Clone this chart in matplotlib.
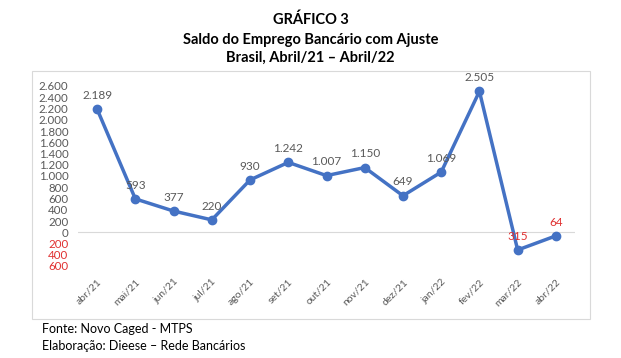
import matplotlib
matplotlib.use("Agg")
import matplotlib.pyplot as plt
from matplotlib.patches import Rectangle

months = ["abr/21", "mai/21", "jun/21", "jul/21", "ago/21", "set/21", "out/21",
          "nov/21", "dez/21", "jan/22", "fev/22", "mar/22", "abr/22"]
values = [2189, 593, 377, 220, 930, 1242, 1007, 1150, 649, 1069, 2505, -315, -64]
yticks = list(range(-600, 2601, 200))

FONT = "Lato"
GRAY = "#595959"
RED = "#E03030"
BLUE = "#4472C4"

def fmt(v):
    s = f"{abs(v):,}".replace(",", ".")
    return s

fig = plt.figure(figsize=(6.21, 3.58), dpi=100)
fig.patch.set_facecolor("white")

# chart box
fig.add_artist(Rectangle((32/621, 1-319/358), (590-32)/621, (319-71)/358,
                         transform=fig.transFigure, fill=False,
                         edgecolor="#D9D9D9", linewidth=0.8))

ax = fig.add_axes([78/621, 1-266/358, (575-78)/621, (266-86)/358])
x = list(range(len(months)))
ax.set_xlim(-0.5, len(months) - 0.5)
ax.set_ylim(-600, 2600)
ax.axhline(0, color="#D9D9D9", linewidth=0.8, zorder=1)
ax.plot(x, values, color=BLUE, linewidth=2.5, marker="o", markersize=6, zorder=3)

for xi, v in zip(x, values):
    ax.annotate(fmt(v), (xi, v), xytext=(0, 6), textcoords="offset points",
                ha="center", va="bottom", fontsize=8.5, family=FONT,
                color=RED if v < 0 else GRAY, zorder=4)

for s in ax.spines.values():
    s.set_visible(False)
ax.set_yticks(yticks)
ax.set_yticklabels([fmt(t) for t in yticks], family=FONT, fontsize=8.3)
for lbl, t in zip(ax.get_yticklabels(), yticks):
    lbl.set_color(RED if t < 0 else GRAY)
ax.tick_params(axis="y", length=0, pad=7)
ax.set_xticks(x)
ax.set_xticklabels(months, rotation=45, ha="right", rotation_mode="anchor",
                   family=FONT, fontsize=7.5, color=GRAY)
ax.tick_params(axis="x", length=0, pad=8)

fig.text(0.5, 1-20/358, "GRÁFICO 3", ha="center", va="center",
         fontsize=10.5, fontweight="bold", family=FONT)
fig.text(0.5, 1-40/358, "Saldo do Emprego Bancário com Ajuste", ha="center",
         va="center", fontsize=10.5, fontweight="bold", family=FONT)
fig.text(0.5, 1-58/358, "Brasil, Abril/21 – Abril/22", ha="center",
         va="center", fontsize=10.5, fontweight="bold", family=FONT)

fig.text(42/621, 1-329/358, "Fonte: Novo Caged - MTPS", ha="left", va="center",
         fontsize=9, family=FONT)
fig.text(42/621, 1-346/358, "Elaboração: Dieese – Rede Bancários", ha="left",
         va="center", fontsize=9, family=FONT)

fig.savefig("out.png", dpi=100)
